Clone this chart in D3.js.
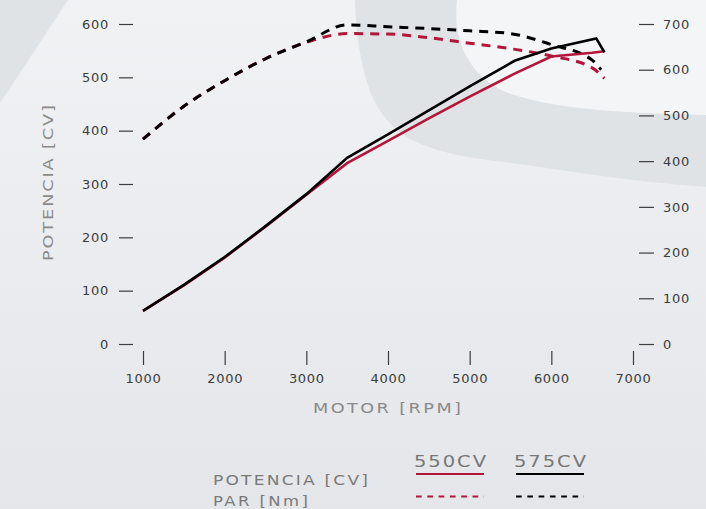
<!DOCTYPE html>
<html>
<head>
<meta charset="utf-8">
<script src="https://cdn.jsdelivr.net/npm/d3@7"></script>
<style>
  html, body { margin: 0; padding: 0; background: #eceef0; }
  svg { display: block; }
  .tick text { font-family: "DejaVu Sans", sans-serif; font-size: 13px; letter-spacing: 0.7px; fill: #3c3c3c; }
  .tick line { stroke: #3c3c3c; stroke-width: 1.2; }
</style>
</head>
<body>
<svg id="chart" width="706" height="509"></svg>
<script>
// ---- Data ----
const rpmTicks = [1000, 2000, 3000, 4000, 5000, 6000, 7000];
const powerTicks = [0, 100, 200, 300, 400, 500, 600];
const torqueTicks = [0, 100, 200, 300, 400, 500, 600, 700];

const rpmPower550 = [1000, 1500, 2000, 2500, 3000, 3500, 4000, 4500, 5000, 5550, 6000, 6500, 6650];
const power550    = [62, 110, 162, 220, 280, 339, 381, 423, 464, 507, 539, 546, 549];

const rpmPower575 = [1000, 1500, 2000, 2500, 3000, 3500, 4000, 4500, 5000, 5550, 6000, 6550, 6650];
const power575    = [62, 111, 163, 221, 281, 349, 393, 438, 483, 531, 554, 573, 547];

const rpmTorque550 = [1000, 1500, 2000, 2500, 3000, 3500, 4000, 4500, 5000, 5500, 6000, 6500, 6650];
const torque550    = [448, 520, 576, 624, 660, 679, 678, 670, 658, 646, 630, 604, 581];

const rpmTorque575 = [1000, 1500, 2000, 2500, 3000, 3500, 4000, 4500, 5000, 5500, 6000, 6500, 6610];
const torque575    = [448, 520, 576, 624, 661, 698, 694, 690, 685, 679, 655, 621, 600];

const seriesNames = ["550CV", "575CV"];
const seriesColors = ["#b3163a", "#000000"];
const legendRows = ["POTENCIA [CV]", "PAR [Nm]"];

// ---- Setup ----
const svg = d3.select("#chart");
const W = 706, H = 509;

// background
const defs = svg.append("defs");
const grad = defs.append("linearGradient").attr("id", "bg").attr("x1", 0).attr("y1", 0).attr("x2", 0).attr("y2", 1);
grad.append("stop").attr("offset", "0%").attr("stop-color", "#f1f2f4");
grad.append("stop").attr("offset", "100%").attr("stop-color", "#e4e6e9");
svg.append("rect").attr("width", W).attr("height", H).attr("fill", "url(#bg)");

svg.append("path").attr("d", "M0,0 L68,0 L0,103 Z").attr("fill", "#e0e3e6");

const curve = d3.line().curve(d3.curveCatmullRom.alpha(0.5));
const outer = [[355,0],[358,40],[365,75],[377,106],[402,134],[445,152],[533,166],[633,180],[706,187]];
const inner = [[457,0],[458,33],[472,65],[498,88],[533,100],[600,110],[706,115]];
svg.append("path")
  .attr("d", curve(outer) + "L706,115" + curve(inner.slice().reverse()).replace(/^M/, "L") + "Z")
  .attr("fill", "#e0e3e6");
svg.append("path")
  .attr("d", curve(inner) + "L706,0Z")
  .attr("fill", "#f4f5f7");

// scales
const x = d3.scaleLinear().domain([1000, 7000]).range([143, 633]);
const yL = d3.scaleLinear().domain([0, 600]).range([344, 24]);
const yR = d3.scaleLinear().domain([0, 700]).range([344, 24]);

// axes
svg.append("g").attr("transform", "translate(133,0)")
  .call(d3.axisLeft(yL).tickValues(powerTicks).tickSize(14).tickPadding(10).tickFormat(d3.format("d")))
  .call(g => g.select(".domain").remove());
svg.append("g").attr("transform", "translate(639,0)")
  .call(d3.axisRight(yR).tickValues(torqueTicks).tickSize(15).tickPadding(9).tickFormat(d3.format("d")))
  .call(g => g.select(".domain").remove());
svg.append("g").attr("transform", "translate(0,351)")
  .call(d3.axisBottom(x).tickValues(rpmTicks).tickSize(14).tickPadding(9).tickFormat(d3.format("d")))
  .call(g => g.select(".domain").remove());

// wide-text helper: horizontally stretched text with exact length
function wideText(tx, ty, rot, str, size, len, sx, anchor, color) {
  const g = svg.append("g").attr("transform", `translate(${tx},${ty}) rotate(${rot}) scale(${sx},1)`);
  g.append("text")
    .attr("text-anchor", anchor)
    .attr("font-family", "DejaVu Sans, sans-serif").attr("font-size", size)
    .attr("fill", color)
    .attr("textLength", len / sx).attr("lengthAdjust", "spacing")
    .text(str);
}

// axis titles
wideText(53, 183, -90, "POTENCIA [CV]", 14.5, 156, 1.22, "middle", "#8a8a8a");
wideText(387, 413, 0, "MOTOR [RPM]", 14.5, 148, 1.22, "middle", "#8a8a8a");

// lines
const lineP = d3.line().x(d => x(d[0])).y(d => yL(d[1]));
const lineT = d3.line().x(d => x(d[0])).y(d => yR(d[1])).curve(d3.curveMonotoneX);

function drawTorque(r, v, color) {
  svg.append("path").datum(r.map((d, i) => [d, v[i]]))
    .attr("d", lineT).attr("fill", "none").attr("stroke", color)
    .attr("stroke-width", 3).attr("stroke-dasharray", "9,7");
}
function drawPower(r, v, color) {
  svg.append("path").datum(r.map((d, i) => [d, v[i]]))
    .attr("d", lineP).attr("fill", "none").attr("stroke", color)
    .attr("stroke-width", 2.6).attr("stroke-linejoin", "miter");
}
drawTorque(rpmTorque550, torque550, seriesColors[0]);
drawTorque(rpmTorque575, torque575, seriesColors[1]);
drawPower(rpmPower550, power550, seriesColors[0]);
drawPower(rpmPower575, power575, seriesColors[1]);

// legend
wideText(213, 485, 0, legendRows[0], 14, 155, 1.22, "start", "#7a7a7a");
wideText(213, 505.5, 0, legendRows[1], 13.5, 95, 1.22, "start", "#7a7a7a");

const legX = [414, 514];
seriesNames.forEach((n, i) => {
  wideText(legX[i], 467, 0, n, 15, 72, 1.3, "start", "#777777");
  svg.append("line").attr("x1", legX[i] + 2).attr("x2", legX[i] + 70).attr("y1", 474).attr("y2", 474)
    .attr("stroke", seriesColors[i]).attr("stroke-width", 1.8);
  svg.append("line").attr("x1", legX[i] + 2).attr("x2", legX[i] + 70).attr("y1", 496.5).attr("y2", 496.5)
    .attr("stroke", seriesColors[i]).attr("stroke-width", 1.8).attr("stroke-dasharray", "5.7,5.6");
});
</script>
</body>
</html>
